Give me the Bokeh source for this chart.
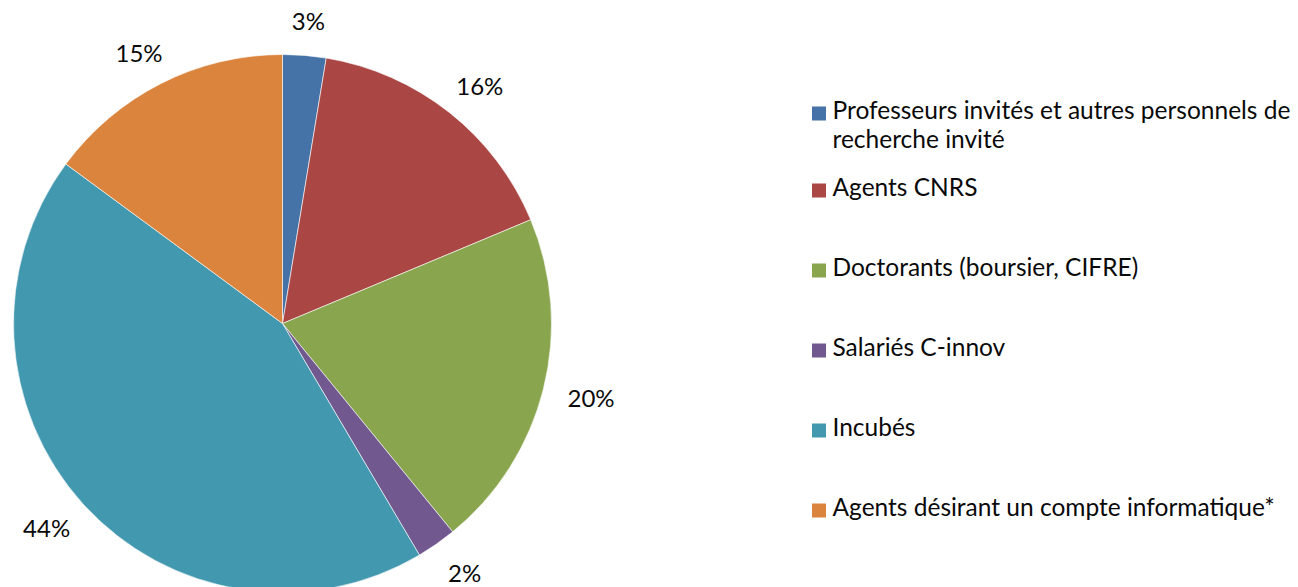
import math
from bokeh.plotting import figure
from bokeh.models import Range1d, ColumnDataSource
from bokeh.core.properties import value
from bokeh.embed import file_html
from bokeh.resources import INLINE

categories = [
    "Professeurs invités et autres personnels de\nrecherche invité",
    "Agents CNRS",
    "Doctorants (boursier, CIFRE)",
    "Salariés C-innov",
    "Incubés",
    "Agents désirant un compte informatique*",
]
shares = [2.6, 16.1, 20.4, 2.4, 43.6, 14.9]
colors = ["#4572A7", "#AA4643", "#89A54E", "#71588F", "#4198AF", "#DB843D"]

W, H = 1298, 587
FONT = "Lato"

p = figure(width=W, height=H, x_range=Range1d(0, W), y_range=Range1d(0, H),
           output_backend="svg", toolbar_location=None,
           x_axis_type=None, y_axis_type=None, min_border=0)
p.outline_line_color = None
p.grid.visible = False
p.background_fill_color = "white"
p.border_fill_color = "white"

cx, cy, r = 282, H - 323, 269
total = sum(shares)
starts, ends, lx, ly, labels = [], [], [], [], []
cum = 0.0
for s in shares:
    a0 = math.pi / 2 - 2 * math.pi * cum / total
    cum += s
    a1 = math.pi / 2 - 2 * math.pi * cum / total
    starts.append(a0)
    ends.append(a1)
    mid = (a0 + a1) / 2
    lx.append(cx + 318 * math.cos(mid))
    ly.append(cy + 304 * math.sin(mid))
    labels.append(f"{round(s / total * 100)}%")

src = ColumnDataSource(dict(start=starts, end=ends, color=colors))
p.wedge(x=cx, y=cy, radius=r, start_angle="start", end_angle="end",
        direction="clock", fill_color="color", line_color="white",
        line_width=0.6, source=src)

p.text(x=lx, y=ly, text=labels, text_font=value(FONT), text_font_size="24px",
       text_align="center", text_baseline="middle", text_color="#0a0a0a")

# legend (one text glyph per line)
sq_x = 818.5
tx = 832
step = 80
line_gap = 29
text_shift = 9
sq_y, line_x, line_y, line_txt = [], [], [], []
for i, cat in enumerate(categories):
    b = (H - 118) if i == 0 else (H - 195) - (i - 1) * step
    sq_y.append(b + 5)
    for j, ln in enumerate(cat.split("\n")):
        line_x.append(tx)
        line_y.append(b + text_shift - j * line_gap)
        line_txt.append(ln)

p.rect(x=[sq_x] * len(categories), y=sq_y, width=14, height=14,
       fill_color=colors, line_color=None)
p.text(x=line_x, y=line_y, text=line_txt, text_font=value(FONT),
       text_font_size="24.5px", text_align="left", text_baseline="alphabetic",
       text_color="#0a0a0a")

open("out.html", "w").write(file_html(p, INLINE))
